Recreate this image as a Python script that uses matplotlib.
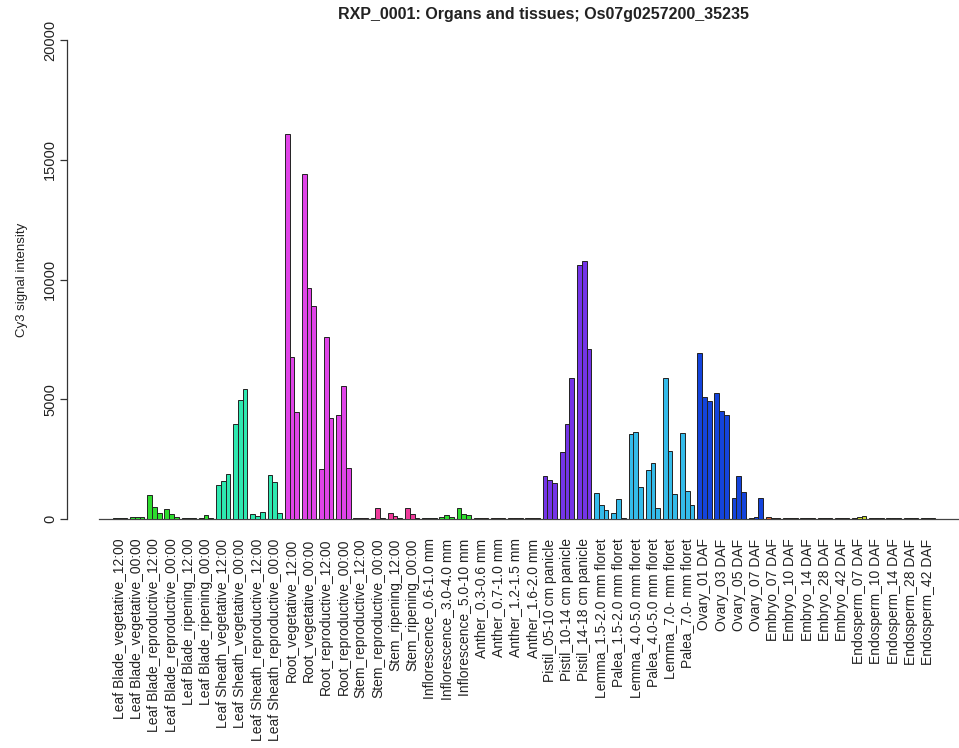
import matplotlib.pyplot as plt
import numpy as np

plt.rcParams["font.family"] = ["Liberation Sans", "DejaVu Sans"]

# sample names (one group of three replicate bars each)
samples = [
    "Leaf Blade_vegetative_12:00", "Leaf Blade_vegetative_00:00",
    "Leaf Blade_reproductive_12:00", "Leaf Blade_reproductive_00:00",
    "Leaf Blade_ripening_12:00", "Leaf Blade_ripening_00:00",
    "Leaf Sheath_vegetative_12:00", "Leaf Sheath_vegetative_00:00",
    "Leaf Sheath_reproductive_12:00", "Leaf Sheath_reproductive_00:00",
    "Root_vegetative_12:00", "Root_vegetative_00:00",
    "Root_reproductive_12:00", "Root_reproductive_00:00",
    "Stem_reproductive_12:00", "Stem_reproductive_00:00",
    "Stem_ripening_12:00", "Stem_ripening_00:00",
    "Inflorescence_0.6-1.0 mm", "Inflorescence_3.0-4.0 mm", "Inflorescence_5.0-10 mm",
    "Anther_0.3-0.6 mm", "Anther_0.7-1.0 mm", "Anther_1.2-1.5 mm", "Anther_1.6-2.0 mm",
    "Pistil_05-10 cm panicle", "Pistil_10-14 cm panicle", "Pistil_14-18 cm panicle",
    "Lemma_1.5-2.0 mm floret", "Palea_1.5-2.0 mm floret",
    "Lemma_4.0-5.0 mm floret", "Palea_4.0-5.0 mm floret",
    "Lemma_7.0- mm floret", "Palea_7.0- mm floret",
    "Ovary_01 DAF", "Ovary_03 DAF", "Ovary_05 DAF", "Ovary_07 DAF",
    "Embryo_07 DAF", "Embryo_10 DAF", "Embryo_14 DAF", "Embryo_28 DAF", "Embryo_42 DAF",
    "Endosperm_07 DAF", "Endosperm_10 DAF", "Endosperm_14 DAF",
    "Endosperm_28 DAF", "Endosperm_42 DAF",
]

# replicate intensities
rep1 = [40, 80, 1000, 400, 40, 60, 1400, 3980, 200, 1840,
        16080, 14420, 2080, 4360, 50, 40, 250, 470,
        30, 80, 480, 30, 30, 30, 30,
        1810, 2780, 10620, 1070, 250, 3550, 2050, 5870, 3570,
        6920, 5270, 860, 30, 80, 40, 30, 30, 50,
        30, 30, 30, 30, 30]
rep2 = [40, 90, 520, 220, 40, 180, 1600, 4960, 110, 1560,
        6760, 9640, 7600, 5550, 60, 460, 130, 200,
        30, 180, 190, 30, 30, 30, 30,
        1630, 3970, 10760, 600, 820, 3620, 2340, 2850, 1150,
        5100, 4500, 1800, 100, 50, 40, 30, 30, 40,
        80, 30, 30, 30, 30]
rep3 = [30, 70, 260, 100, 40, 50, 1860, 5420, 300, 240,
        4460, 8900, 4220, 2120, 50, 50, 50, 60,
        30, 80, 160, 30, 30, 30, 30,
        1520, 5870, 7080, 390, 60, 1320, 460, 1060, 600,
        4910, 4360, 1140, 890, 30, 30, 30, 30, 30,
        130, 30, 30, 30, 30]

organ_colors = {
    "Leaf Blade": "#2edc2e",
    "Leaf Sheath": "#2ee8b0",
    "Root": "#e044e8",
    "Stem": "#ee3a9a",
    "Inflorescence": "#2edc2e",
    "Anther": "#e8a030",
    "Pistil": "#7434e8",
    "Lemma": "#34bbea",
    "Palea": "#34bbea",
    "Ovary": "#1444dc",
    "Embryo": "#d8602c",
    "Endosperm": "#c4d42a",
}


def main():
    colors = [organ_colors[s.split("_")[0]] for s in samples]
    x = np.arange(len(samples))
    w = 1 / 3.6

    fig = plt.figure(figsize=(9.59, 7.48), dpi=100)
    ax = fig.add_axes([67 / 959, 1 - 519 / 748, 892 / 959, 479 / 748])

    for k, vals in enumerate([rep1, rep2, rep3]):
        ax.bar(x + (k - 1) * w, vals, width=w, color=colors,
               edgecolor="#222222", linewidth=0.7, zorder=2)

    ax.set_xlim((67 - 120) / 17.19, (959 - 120) / 17.19)
    ax.set_ylim(0, 20000)

    # baseline under the bars
    ax.plot([-1.2, 60], [0, 0], color="#444444", linewidth=0.9,
            clip_on=False, zorder=1)

    for side in ["top", "right", "bottom"]:
        ax.spines[side].set_visible(False)
    ax.spines["left"].set_color("#333333")
    ax.spines["left"].set_linewidth(0.9)

    ax.set_yticks([0, 5000, 10000, 15000, 20000])
    ax.set_yticklabels(["0", "5000", "10000", "15000", "20000"],
                       rotation=90, va="center", fontsize=10.5, color="#222222")
    ax.tick_params(axis="y", length=5, width=0.9, color="#333333", pad=2)

    ax.set_xticks(x)
    ax.set_xticklabels(samples, rotation=90, fontsize=10, color="#222222")
    ax.tick_params(axis="x", length=0, pad=14)

    ax.set_ylabel("Cy3 signal intensity", fontsize=9.5, color="#222222", labelpad=11)
    fig.text(543 / 959, 1 - 14 / 748, "RXP_0001: Organs and tissues; Os07g0257200_35235",
             ha="center", va="center", fontsize=11.5, fontweight="bold", color="#222222")

    fig.savefig("out.png", dpi=100)
    plt.close(fig)


if __name__ == "__main__":
    main()
